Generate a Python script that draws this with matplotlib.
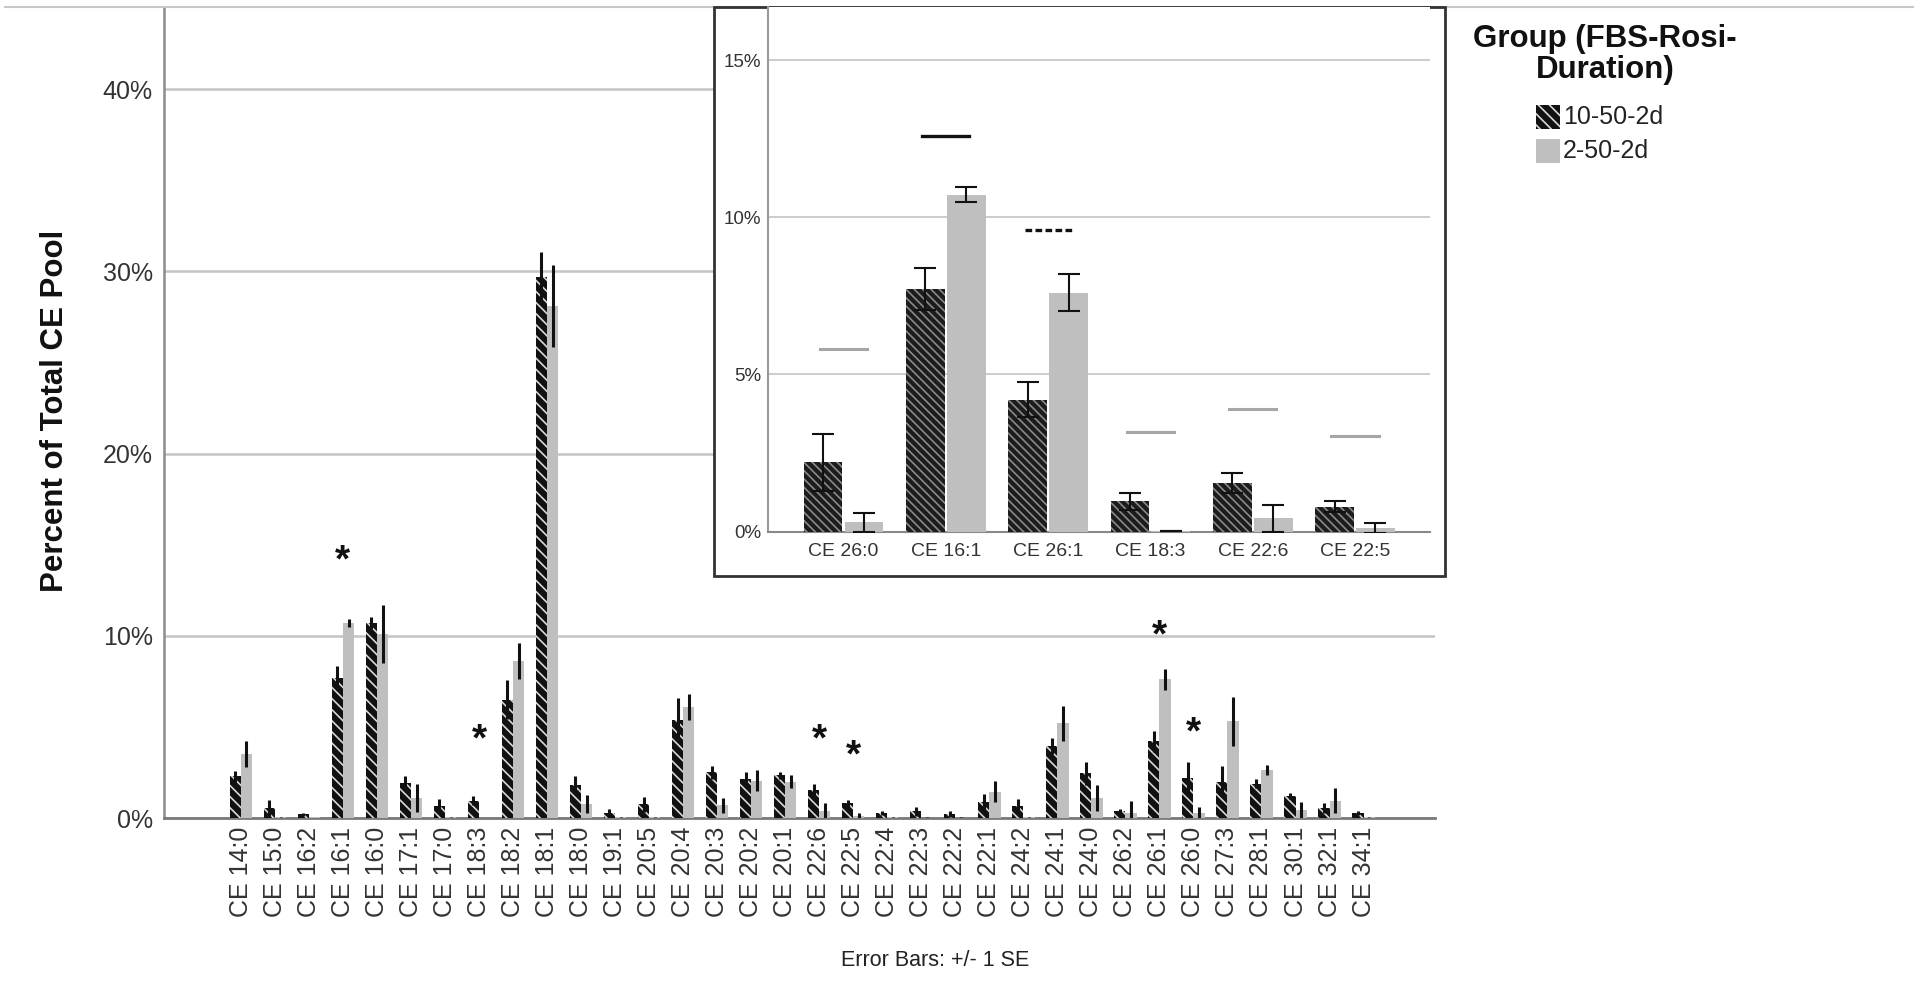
import numpy as np
import matplotlib
matplotlib.use("Agg")
from matplotlib import pyplot as plt
from matplotlib.patches import Rectangle
from matplotlib.lines import Line2D
from matplotlib.ticker import FuncFormatter

plt.rcParams['font.family'] = ['Liberation Sans', 'DejaVu Sans']
plt.rcParams['hatch.linewidth'] = 1.2

# datos del grafico principal (porcentaje del pool total de CE)
especies = ["CE 14:0", "CE 15:0", "CE 16:2", "CE 16:1", "CE 16:0", "CE 17:1", "CE 17:0",
            "CE 18:3", "CE 18:2", "CE 18:1", "CE 18:0", "CE 19:1", "CE 20:5", "CE 20:4",
            "CE 20:3", "CE 20:2", "CE 20:1", "CE 22:6", "CE 22:5", "CE 22:4", "CE 22:3",
            "CE 22:2", "CE 22:1", "CE 24:2", "CE 24:1", "CE 24:0", "CE 26:2", "CE 26:1",
            "CE 26:0", "CE 27:3", "CE 28:1", "CE 30:1", "CE 32:1", "CE 34:1"]
grupo_10 = [2.3, 0.55, 0.2, 7.7, 10.7, 1.9, 0.65, 0.95, 6.5, 29.7, 1.8, 0.27, 0.75, 5.4,
            2.5, 2.15, 2.35, 1.55, 0.8, 0.27, 0.37, 0.22, 0.9, 0.68, 3.95, 2.45, 0.37, 4.2,
            2.2, 2.0, 1.88, 1.2, 0.55, 0.27]
se_10 = [0.3, 0.45, 0.1, 0.65, 0.35, 0.4, 0.4, 0.26, 1.05, 1.35, 0.5, 0.25, 0.4, 1.2,
         0.35, 0.35, 0.2, 0.32, 0.17, 0.13, 0.25, 0.15, 0.42, 0.36, 0.45, 0.65, 0.12, 0.56,
         0.9, 0.85, 0.25, 0.18, 0.27, 0.1]
grupo_2 = [3.5, 0.03, 0.05, 10.7, 10.1, 1.1, 0.03, 0.01, 8.6, 28.1, 0.75, 0.03, 0.03, 6.1,
           0.7, 2.05, 2.0, 0.4, 0.12, 0.03, 0.02, 0.02, 1.45, 0.03, 5.2, 1.1, 0.25, 7.6,
           0.3, 5.3, 2.65, 0.45, 0.95, 0.03]
se_2 = [0.7, 0.02, 0.02, 0.22, 1.6, 0.75, 0.02, 0.01, 1.0, 2.25, 0.5, 0.02, 0.02, 0.7,
        0.4, 0.58, 0.37, 0.42, 0.15, 0.02, 0.02, 0.02, 0.58, 0.02, 0.95, 0.7, 0.7, 0.6,
        0.3, 1.33, 0.27, 0.45, 0.68, 0.02]
asteriscos = ["CE 16:1", "CE 18:3", "CE 22:6", "CE 22:5", "CE 26:1", "CE 26:0"]
asteriscos_y = [14.8, 5.0, 5.0, 4.1, 10.7, 5.4]

# datos del recuadro
inset_especies = ["CE 26:0", "CE 16:1", "CE 26:1", "CE 18:3", "CE 22:6", "CE 22:5"]
inset_10 = [2.2, 7.72, 4.2, 0.96, 1.56, 0.79]
inset_se_10 = [0.9, 0.66, 0.56, 0.26, 0.32, 0.17]
inset_2 = [0.29, 10.72, 7.6, 0.02, 0.42, 0.12]
inset_se_2 = [0.3, 0.24, 0.59, 0.01, 0.42, 0.15]
lineas_y = [5.82, 12.58, 9.58, 3.16, 3.91, 3.04]
lineas_estilo = ["gris", "solida", "guiones", "gris", "gris", "gris"]

grupos = ["10-50-2d", "2-50-2d"]

W, H = 1920, 982
OSCURO = '#111111'
CLARO = '#bfbfbf'

fig = plt.figure(figsize=(W / 100, H / 100), dpi=100)

# linea superior de la figura
fig.add_artist(Line2D([5 / W, 1913 / W], [1 - 7 / H, 1 - 7 / H], transform=fig.transFigure,
                      color='#c8c8c8', lw=1.5, zorder=1))

# ---- grafico principal ----
ax = fig.add_axes([164 / W, 1 - 818 / H, (1435 - 164) / W, (818 - 7) / H], zorder=0)
x = np.arange(len(especies))
ax.bar(x - 0.165, grupo_10, 0.33, color=OSCURO, edgecolor='#d8d8d8', hatch='\\\\\\',
       linewidth=0, zorder=3)
ax.bar(x + 0.165, grupo_2, 0.33, color=CLARO, linewidth=0, zorder=3)
ax.errorbar(x - 0.165, grupo_10, yerr=se_10, fmt='none', ecolor='#111111', elinewidth=2.2,
            capsize=0, zorder=4)
ax.errorbar(x + 0.165, grupo_2, yerr=se_2, fmt='none', ecolor='#111111', elinewidth=2.2,
            capsize=0, zorder=4)

for nombre, yv in zip(asteriscos, asteriscos_y):
    ax.annotate('*', (especies.index(nombre), yv), xytext=(0, -17), textcoords='offset points',
                ha='center', va='baseline', fontsize=28, fontweight='bold', color='#111111',
                zorder=5)

ax.set_xlim(-2.26, 35.1)
ax.set_ylim(0, 44.5)
ax.set_yticks([0, 10, 20, 30, 40])
ax.yaxis.set_major_formatter(FuncFormatter(lambda v, p: "%d%%" % v))
ax.set_xticks(x)
ax.set_xticklabels(especies, rotation=90, fontsize=18, color='#333333')
ax.tick_params(axis='y', length=0, pad=8, labelsize=18, labelcolor='#333333')
ax.tick_params(axis='x', length=0, pad=6.5)
ax.grid(axis='y', color='#c4c4c4', lw=1.8, zorder=0)
ax.set_axisbelow(True)
for s in ['top', 'right']:
    ax.spines[s].set_visible(False)
ax.spines['left'].set_color('#8c8c8c')
ax.spines['left'].set_linewidth(1.8)
ax.spines['bottom'].set_color('#7a7a7a')
ax.spines['bottom'].set_linewidth(2)

fig.text(55 / W, 1 - 411 / H, "Percent of Total CE Pool", rotation=90, ha='center', va='center',
         fontsize=22.5, fontweight='bold', color='#111111')
fig.text(935 / W, 1 - 960 / H, "Error Bars: +/- 1 SE", ha='center', va='center',
         fontsize=15.5, color='#222222')

# ---- recuadro ----
fig.add_artist(Rectangle((713.6 / W, 1 - 576 / H), (1445 - 713.6) / W, (576 - 7) / H,
                         transform=fig.transFigure, facecolor='white', edgecolor='#333333',
                         lw=2.0, zorder=2))
axi = fig.add_axes([768 / W, 1 - 531.6 / H, (1429.5 - 768) / W, (531.6 - 7) / H], zorder=3)
xi = np.arange(len(inset_especies))
axi.bar(xi - 0.2, inset_10, 0.38, color='#1c1c1c', edgecolor='#8a8a8a', hatch='\\\\\\\\',
        linewidth=0, zorder=3)
axi.bar(xi + 0.2, inset_2, 0.38, color=CLARO, linewidth=0, zorder=3)
axi.errorbar(xi - 0.2, inset_10, yerr=inset_se_10, fmt='none', ecolor='#111111', elinewidth=1.5,
             capsize=8, capthick=1.5, zorder=4)
axi.errorbar(xi + 0.2, inset_2, yerr=inset_se_2, fmt='none', ecolor='#111111', elinewidth=1.5,
             capsize=8, capthick=1.5, zorder=4)

for i, (yv, est) in enumerate(zip(lineas_y, lineas_estilo)):
    if est == "gris":
        axi.plot([i - 0.23, i + 0.23], [yv, yv], color='#a6a6a6', lw=2.2, zorder=4)
    elif est == "solida":
        axi.plot([i - 0.23, i + 0.23], [yv, yv], color='#111111', lw=2.4, zorder=4)
    else:
        axi.plot([i - 0.23, i + 0.23], [yv, yv], color='#111111', lw=2.4, ls=(0, (2, 1)), zorder=4)

axi.set_xlim(-0.738, 5.728)
axi.set_ylim(0, 16.69)
axi.set_yticks([0, 5, 10, 15])
axi.yaxis.set_major_formatter(FuncFormatter(lambda v, p: "%d%%" % v))
axi.set_xticks(xi)
axi.set_xticklabels(inset_especies, fontsize=14, color='#333333')
axi.tick_params(axis='y', length=0, pad=5, labelsize=13.5, labelcolor='#333333')
axi.tick_params(axis='x', length=0, pad=8)
axi.grid(axis='y', color='#c8c8c8', lw=1.3, zorder=0)
axi.set_axisbelow(True)
for s in ['top', 'right']:
    axi.spines[s].set_visible(False)
axi.spines['left'].set_color('#999999')
axi.spines['left'].set_linewidth(1.5)
axi.spines['bottom'].set_color('#888888')
axi.spines['bottom'].set_linewidth(1.5)

# ---- leyenda ----
fig.text(1605 / W, 1 - 24 / H, "Group (FBS-Rosi-\nDuration)", ha='center', va='top',
         multialignment='center', fontsize=22.5, fontweight='bold', color='#111111',
         linespacing=1.05)
estilos_leyenda = [dict(facecolor=OSCURO, edgecolor='#d8d8d8', hatch='\\\\\\', lw=0),
                   dict(facecolor=CLARO, lw=0)]
for k, (g, est) in enumerate(zip(grupos, estilos_leyenda)):
    yc = 117 + 34 * k
    fig.add_artist(Rectangle((1536 / W, 1 - (yc + 12) / H), 24 / W, 24 / H,
                             transform=fig.transFigure, zorder=3, **est))
    fig.text(1563 / W, 1 - yc / H, g, ha='left', va='center', fontsize=18, color='#222222')

fig.savefig("out.png", dpi=100)
